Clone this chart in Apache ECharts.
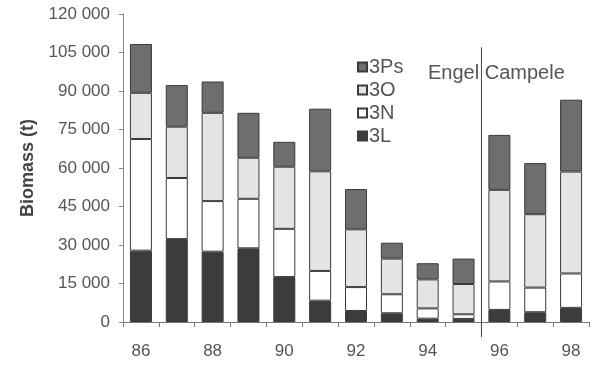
<!DOCTYPE html>
<html>
<head>
<meta charset="utf-8">
<script src="https://cdn.jsdelivr.net/npm/echarts@6/dist/echarts.min.js"></script>
<style>
html,body{margin:0;padding:0;background:#fff;}
#c{width:600px;height:371px;}
</style>
</head>
<body>
<div id="c"></div>
<script>
var years = ['86','87','88','89','90','91','92','93','94','95','96','97','98'];
var s3L  = [27800, 32300, 27400, 28700, 17500,  8300,  4300, 3400, 1300, 1200,  4700,  3800,  5500];
var s3N  = [43500, 23800, 19700, 19300, 18800, 11600,  9300, 7400, 4000, 1800, 11100,  9600, 13400];
var s3O  = [18000, 20000, 34400, 16000, 24200, 38800, 22500, 13900, 11300, 11800, 35700, 28600, 39700];
var s3Ps = [19000, 16200, 12200, 17500,  9700, 24400, 15700, 6200, 6300, 9900, 21400, 19900, 28000];
var yTicks = { min: 0, max: 120000, step: 15000 };
var dividerAfter = '95';
var annotation = 'Engel Campele';

var chart = echarts.init(document.getElementById('c'));
var font = 'Liberation Sans, Arial, sans-serif';
function fmt(v){ if(v===0) return '0'; var k=Math.floor(v/1000); return k+' 000'; }
function bar(name, data, color){
  return { name:name, type:'bar', stack:'b', data:data, barWidth:22,
    itemStyle:{ color:color, borderColor:'#3a3a3a', borderWidth:1 } };
}
chart.setOption({
  animation:false,
  backgroundColor:'#ffffff',
  grid:{ left:123, right:11, top:14, bottom:49 },
  legend:{ data:['3Ps','3O','3N','3L'], orient:'vertical', left:352, top:52,
    icon:'rect', itemWidth:9, itemHeight:9, itemGap:3,
    textStyle:{ fontFamily:font, fontSize:20, color:'#555', padding:[0,0,0,-3], lineHeight:20 } },
  xAxis:{ type:'category', data:years,
    axisLine:{ lineStyle:{ color:'#777', width:1 } },
    axisTick:{ show:true, interval:0, length:5, lineStyle:{ color:'#777' } },
    axisLabel:{ interval:1, margin:21, fontFamily:font, fontSize:17, color:'#555' } },
  yAxis:{ type:'value', min:yTicks.min, max:yTicks.max, interval:yTicks.step,
    name:'Biomass (t)', nameLocation:'middle', nameGap:86,
    nameTextStyle:{ fontFamily:font, fontSize:18, fontWeight:'bold', color:'#444' },
    axisLine:{ show:true, lineStyle:{ color:'#888', width:1 } },
    axisTick:{ show:true, length:4, lineStyle:{ color:'#888' } },
    splitLine:{ show:false },
    axisLabel:{ margin:13, formatter:fmt, fontFamily:font, fontSize:17, color:'#555' } },
  series:[
    bar('3L', s3L, '#3c3c3c'),
    bar('3N', s3N, '#ffffff'),
    bar('3O', s3O, '#e4e4e4'),
    bar('3Ps', s3Ps, '#6e6e6e')
  ]
});
var idx = years.indexOf(dividerAfter);
var xa = chart.convertToPixel({xAxisIndex:0}, years[idx]);
var xb = chart.convertToPixel({xAxisIndex:0}, years[idx+1]);
var xm = (xa + xb) / 2;
var yTop = chart.convertToPixel({yAxisIndex:0}, 107000);
var y0 = chart.convertToPixel({yAxisIndex:0}, 0);
chart.setOption({
  graphic:[
    { type:'line', shape:{ x1:xm, y1:yTop, x2:xm, y2:y0+15 }, style:{ stroke:'#444', lineWidth:1 }, z:10 },
    { type:'text', x:428, y:63, style:{ text:annotation, fontFamily:font, fontSize:20, fill:'#555' }, z:5 }
  ]
});
</script>
</body>
</html>
